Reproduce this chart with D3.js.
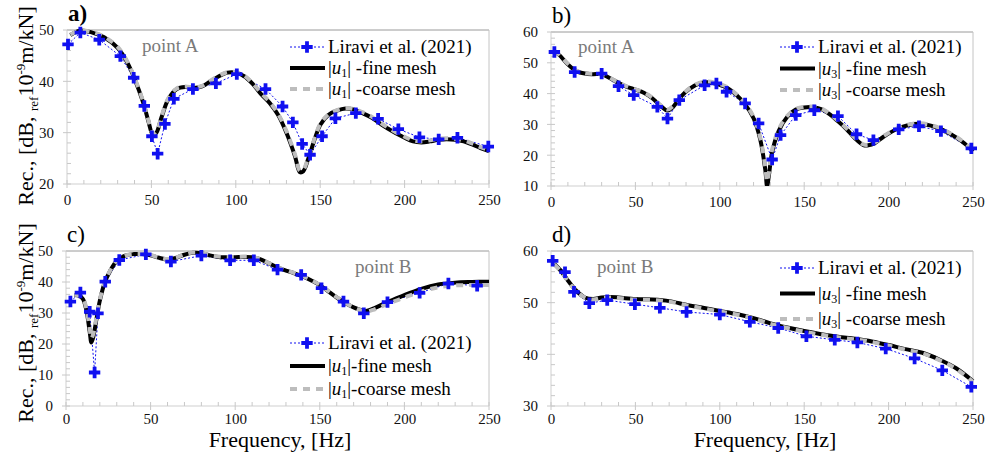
<!DOCTYPE html>
<html><head><meta charset="utf-8">
<script src="https://cdn.jsdelivr.net/npm/d3@7"></script>
<style>html,body{margin:0;background:#fff}</style>
</head><body><svg id="fig" width="988" height="459"></svg>
<script>
// ---------- Data: receptance spectra (dB re 1e-9 m/kN) ----------
const xTickLabels = [0, 50, 100, 150, 200, 250];

// a) point A, |u1|
const freqA1 = [2,8,15,22,30,36,40,45,48,51,53,56,60,65,70,75,80,85,90,95,100,105,110,115,120,125,130,135,138,140,143,147,150,155,160,165,170,175,180,190,200,205,210,215,220,225,230,235,240,245,250];
const fineA1 = [49.0,49.9,49.5,48.6,46.5,43.5,40.5,36.0,32.5,29.5,30.0,33.0,36.5,38.5,38.9,38.7,39.0,40.0,41.0,41.7,41.7,41.0,39.5,37.5,35.8,33.5,30.0,25.5,22.3,22.5,25.0,29.0,31.5,33.5,34.3,34.7,34.5,33.8,33.0,30.8,29.0,28.3,28.1,28.3,28.6,28.7,28.6,28.3,27.7,27.0,26.4];
const coarseA1 = [49.1,49.9,49.6,48.7,46.7,43.7,40.7,36.2,32.7,29.8,30.2,33.2,36.7,38.6,39.0,38.8,39.1,40.1,41.1,41.8,41.8,41.1,39.6,37.7,36.0,33.7,30.3,25.8,22.6,22.8,25.2,29.2,31.7,33.6,34.4,34.8,34.6,34.0,33.2,31.0,29.2,28.5,28.3,28.5,28.8,28.9,28.8,28.5,27.9,27.2,26.6];
const lirFreqA1 = [0.6,7.9,19.1,31.6,39.5,45.8,50.3,53.7,58,63.3,74.6,88.2,100.6,117.6,127.7,133.8,139.3,144,151.1,159,171.1,184.3,196.3,208.8,220.2,231.3,249.6];
const lirA1 = [47.2,49.5,48.1,44.9,40.7,35.2,29.3,25.9,31.7,36.6,38.5,39.6,41.4,38.5,35.1,32.0,27.8,25.7,29.3,32.8,33.8,32.7,30.7,29.1,28.7,29.0,27.3];

// b) point A, |u3|
const freqA3 = [2,5,10,15,20,25,30,35,40,45,50,55,60,65,69,72,77,82,88,93,98,104,110,115,120,124,127,128,129,131,135,140,145,150,155,160,165,170,175,180,185,188,192,197,205,212,218,225,232,240,245,250];
const fineA3 = [53.8,52.5,49.5,47.3,46.5,46.3,46.3,45.0,43.5,42.2,41.3,40.3,38.5,36.0,34.5,35.5,39.0,41.5,43.3,43.7,43.2,42.0,39.5,36.5,32.0,25.0,15.0,10.0,13.0,21.0,28.0,32.5,34.8,35.5,35.6,35.0,33.3,31.0,28.5,25.5,23.3,23.2,24.0,26.0,28.5,29.8,30.2,29.6,28.2,25.8,23.8,21.2];
const coarseA3 = [53.9,52.6,49.7,47.5,46.6,46.4,46.4,45.1,43.6,42.3,41.4,40.4,38.7,36.2,34.8,35.8,39.2,41.7,43.5,43.9,43.4,42.2,39.7,36.8,32.4,25.6,16.0,11.5,14.0,21.8,28.5,32.8,35.0,35.7,35.8,35.2,33.5,31.2,28.7,25.7,23.5,23.4,24.2,26.2,28.7,30.0,30.4,29.8,28.4,26.0,24.0,21.4];
const lirFreqA3 = [2,14,30,40,49,63,69,76,91,98,104,115,123,131,136,145,156,170,181,191,206,218,231,249];
const lirA3 = [53.5,47.0,46.5,42.4,39.5,35.7,31.9,37.9,42.7,43.3,40.6,36.8,30.3,18.6,26.5,33.0,34.6,32.7,26.8,24.9,28.4,29.4,27.8,22.2];

// c) point B, |u1|
const freqB1 = [5,8,10,12,14,15,16,18,20,23,26,30,35,40,45,50,55,60,65,70,75,80,85,90,95,100,105,110,115,120,125,130,135,140,145,150,155,160,165,170,175,178,182,190,200,210,220,230,240,250];
const fineB1 = [35.8,35.5,34.5,31.0,24.0,20.5,22.0,28.0,34.0,40.0,43.5,46.8,48.5,49.0,49.0,48.6,47.8,47.3,47.8,48.8,49.4,49.3,48.6,48.1,48.0,48.0,48.1,48.0,47.3,46.0,44.7,43.7,42.8,41.8,40.5,39.0,37.0,35.0,33.2,31.8,30.8,30.7,31.5,33.5,35.8,37.8,39.2,39.8,40.0,40.1];
const coarseB1 = [35.9,35.6,34.8,31.5,25.0,21.8,23.0,28.6,34.3,40.2,43.6,46.9,48.5,49.0,49.0,48.7,47.9,47.4,47.9,48.9,49.5,49.4,48.7,48.2,48.1,48.1,48.2,48.1,47.4,46.1,44.8,43.8,42.9,41.9,40.6,39.1,37.1,35.1,33.3,31.8,30.7,30.5,31.1,32.9,35.0,36.9,38.3,38.9,39.0,39.0];
const lirFreqB1 = [2.6,8.5,14,16.9,18.9,23.2,31.5,47.2,62,80,97,111,125,139,151,164,176,190,209,226,243];
const lirB1 = [33.7,36.6,30.4,10.8,29.9,40.1,47.1,48.9,46.6,48.5,47.0,47.0,44.0,42.3,38.0,33.7,29.9,33.5,36.5,39.5,38.8];

// d) point B, |u3|
const freqB3 = [2,5,10,15,20,25,30,35,40,50,60,70,80,90,100,110,120,130,140,150,160,170,180,190,200,210,220,230,240,250];
const fineB3 = [57.5,56.5,54.3,52.3,51.0,50.7,51.0,51.1,51.0,50.7,50.6,50.3,49.6,49.0,48.4,47.8,47.0,46.0,45.2,44.5,43.9,43.4,43.0,42.5,41.8,41.0,40.3,39.0,37.3,34.8];
const coarseB3 = [57.4,56.4,54.2,52.2,51.0,50.6,50.9,51.0,50.9,50.6,50.5,50.2,49.5,48.9,48.3,47.7,46.9,45.9,45.1,44.4,43.8,43.3,42.9,42.4,41.7,40.9,40.2,38.9,37.2,34.7];
const lirFreqB3 = [1,8.3,13.6,22.7,33.3,49.7,64.5,80.3,100,117.8,134.6,151.3,168.1,181.5,198.3,215.4,231.8,249];
const lirB3 = [58.1,55.9,52.1,49.9,50.5,49.7,49.0,48.2,47.7,46.3,45.1,43.5,42.8,42.3,41.1,39.2,36.9,33.7];

// ---------- Layout & style ----------
const FONT = '"Liberation Serif","Times New Roman",serif';
const BLUE = "#1010f0";
const svg = d3.select("#fig");

const panels = [
  {id:"a)", bold:true, box:[67,489,30,184], yDom:[20,50], fine:[freqA1,fineA1], coarse:[freqA1,coarseA1], lir:[lirFreqA1,lirA1],
   comp:"1", sep:" ", point:"point A", ptPos:[142,52], leg:[290,47,21], xPad:10},
  {id:"b)", bold:false, box:[551,973,32,186], yDom:[10,60], fine:[freqA3,fineA3], coarse:[freqA3,coarseA3], lir:[lirFreqA3,lirA3],
   comp:"3", sep:" ", point:"point A", ptPos:[578,53], leg:[780,47,21.5], xPad:10},
  {id:"c)", bold:false, box:[66,489,251,406], yDom:[0,50], fine:[freqB1,fineB1], coarse:[freqB1,coarseB1], lir:[lirFreqB1,lirB1],
   comp:"1", sep:"", point:"point B", ptPos:[355,273], leg:[290,343,23], xPad:7},
  {id:"d)", bold:false, box:[551,973,251,406], yDom:[30,60], fine:[freqB3,fineB3], coarse:[freqB3,coarseB3], lir:[lirFreqB3,lirB3],
   comp:"3", sep:" ", point:"point B", ptPos:[597,273], leg:[780,268,25.5], xPad:7}
];

function drawPanel(p) {
  const [x0, x1, y0, y1] = p.box;
  const x = d3.scaleLinear().domain([0, 250]).range([x0, x1]);
  const y = d3.scaleLinear().domain(p.yDom).range([y1, y0]);
  const g = svg.append("g");

  // frame: light axes on left/bottom, darker top/right edges
  g.append("line").attr("x1", x0).attr("x2", x1).attr("y1", y0).attr("y2", y0).attr("stroke", "#9a9a9a");
  g.append("line").attr("x1", x1).attr("x2", x1).attr("y1", y0).attr("y2", y1).attr("stroke", "#c4c4c4");
  g.append("line").attr("x1", x0).attr("x2", x0).attr("y1", y0).attr("y2", y1).attr("stroke", "#cfcfcf");
  g.append("line").attr("x1", x0).attr("x2", x1).attr("y1", y1).attr("y2", y1).attr("stroke", "#cfcfcf");

  // x ticks: minor every 10 (inward), major every 50 (crossing)
  d3.range(0, 251, 10).forEach(v => {
    const major = v % 50 === 0;
    g.append("line").attr("x1", x(v)).attr("x2", x(v))
      .attr("y1", y1 - 4).attr("y2", major ? y1 + 4 : y1).attr("stroke", "#c8c8c8");
  });
  // y ticks: minor every 2, major every 10
  d3.range(p.yDom[0], p.yDom[1] + 0.01, 2).forEach(v => {
    const major = v % 10 === 0;
    g.append("line").attr("y1", y(v)).attr("y2", y(v))
      .attr("x1", major ? x0 - 4 : x0).attr("x2", x0 + 4).attr("stroke", "#c8c8c8");
  });

  // tick labels through the axis generators
  const xAxis = d3.axisBottom(x).tickValues(xTickLabels).tickSize(0).tickPadding(p.xPad);
  const ga = g.append("g").attr("transform", `translate(0,${y1})`).call(xAxis);
  const yAxis = d3.axisLeft(y).tickValues(d3.range(p.yDom[0], p.yDom[1] + 1, 10)).tickSize(0).tickPadding(13);
  const gy = g.append("g").attr("transform", `translate(${x0},0)`).call(yAxis);
  [ga, gy].forEach(ax => {
    ax.select(".domain").remove();
    ax.selectAll("text").attr("font-family", FONT).attr("font-size", 15).attr("fill", "#111");
  });

  const line = d3.line().x(d => x(d[0])).y(d => y(d[1])).curve(d3.curveCatmullRom.alpha(0.5));
  const lineStraight = d3.line().x(d => x(d[0])).y(d => y(d[1]));
  const zipS = s => s[0].map((f, i) => [f, s[1][i]]);

  // clip the curves that dip below the frame
  const clipId = "clip" + p.id[0];
  svg.append("clipPath").attr("id", clipId).append("rect")
    .attr("x", x0).attr("y", y0 - 2).attr("width", x1 - x0 + 2).attr("height", y1 - y0 + 2);
  const plot = g.append("g").attr("clip-path", `url(#${clipId})`);

  // Liravi et al. (2021): dotted blue with plus markers
  plot.append("path").attr("d", lineStraight(zipS(p.lir))).attr("fill", "none")
    .attr("stroke", BLUE).attr("stroke-width", 1).attr("stroke-dasharray", "2,2");
  // fine mesh: thick black
  plot.append("path").attr("d", line(zipS(p.fine))).attr("fill", "none")
    .attr("stroke", "#000").attr("stroke-width", 4);
  // coarse mesh: thick grey dashed on top
  plot.append("path").attr("d", line(zipS(p.coarse))).attr("fill", "none")
    .attr("stroke", "#bdbdbd").attr("stroke-width", 4).attr("stroke-dasharray", "7,6");

  const cross = d3.symbol().type(d3.symbolCross).size(72);
  g.selectAll(null).data(zipS(p.lir)).join("path")
    .attr("d", cross).attr("fill", BLUE)
    .attr("transform", d => `translate(${x(d[0])},${y(d[1])})`);

  // panel id and measuring point
  g.append("text").attr("x", x0 + 1).attr("y", y0 - 9).attr("font-family", FONT)
    .attr("font-size", 23).attr("font-weight", p.bold ? "bold" : "normal").text(p.id);
  g.append("text").attr("x", p.ptPos[0]).attr("y", p.ptPos[1]).attr("font-family", FONT)
    .attr("font-size", 19).attr("fill", "#7a7a7a").text(p.point);

  // legend
  const [lx, ly, dy] = p.leg;
  const rows = [0, 1, 2].map(i => ly + i * dy);
  g.append("line").attr("x1", lx).attr("x2", lx + 35).attr("y1", rows[0]).attr("y2", rows[0])
    .attr("stroke", BLUE).attr("stroke-width", 1).attr("stroke-dasharray", "2,2");
  g.append("path").attr("d", cross).attr("fill", BLUE).attr("transform", `translate(${lx + 17},${rows[0]})`);
  g.append("line").attr("x1", lx).attr("x2", lx + 35).attr("y1", rows[1]).attr("y2", rows[1])
    .attr("stroke", "#000").attr("stroke-width", 4);
  g.append("line").attr("x1", lx).attr("x2", lx + 35).attr("y1", rows[2]).attr("y2", rows[2])
    .attr("stroke", "#bdbdbd").attr("stroke-width", 4).attr("stroke-dasharray", "7,6");

  const tx = lx + 38;
  g.append("text").attr("x", tx).attr("y", rows[0] + 6).attr("font-family", FONT).attr("font-size", 19)
    .text("Liravi et al. (2021)");
  ["-fine mesh", "-coarse mesh"].forEach((lab, i) => {
    const t = g.append("text").attr("x", tx).attr("y", rows[i + 1] + 6).attr("font-family", FONT).attr("font-size", 19);
    t.append("tspan").text("|");
    t.append("tspan").attr("font-style", "italic").text("u");
    t.append("tspan").attr("font-size", 12).attr("dy", 3).text(p.comp);
    t.append("tspan").attr("dy", -3).text("|" + p.sep + lab);
  });
}

panels.forEach(drawPanel);

// shared axis titles
function yTitle(cx, cy) {
  const t = svg.append("text").attr("transform", `translate(${cx},${cy}) rotate(-90)`)
    .attr("text-anchor", "middle").attr("font-family", FONT).attr("font-size", 22);
  t.append("tspan").text("Rec., [dB, ");
  t.append("tspan").attr("font-size", 13).attr("dy", 5).text("ref");
  t.append("tspan").attr("dy", -5).text("10");
  t.append("tspan").attr("font-size", 13).attr("dy", -8).text("-9");
  t.append("tspan").attr("dy", 8).text("m/kN]");
}
yTitle(33, 106);
yTitle(33, 323);

[[280, 447], [765, 447]].forEach(([cx, cy]) => {
  svg.append("text").attr("x", cx).attr("y", cy).attr("text-anchor", "middle")
    .attr("font-family", FONT).attr("font-size", 22).text("Frequency, [Hz]");
});
</script></body></html>
